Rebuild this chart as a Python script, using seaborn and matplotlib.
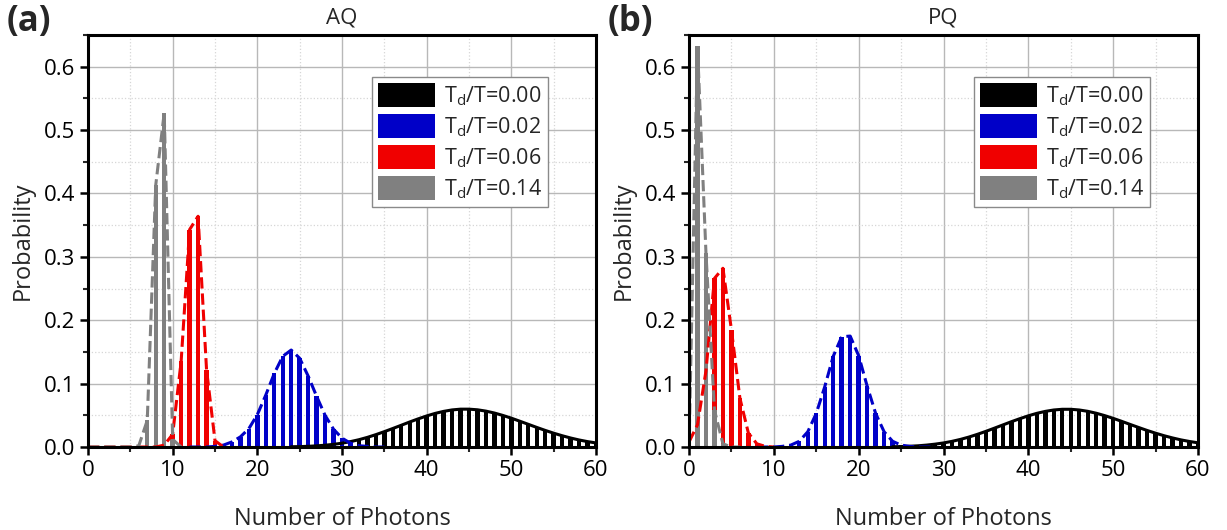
import matplotlib
matplotlib.use("Agg")
import matplotlib.pyplot as plt
import seaborn as sns
import numpy as np
from matplotlib.patches import Patch
from matplotlib.ticker import MultipleLocator

# ---------------- data ----------------
# AQ panel
aq_black_n = list(range(24, 61))
aq_black_p = [0.0004, 0.0006, 0.0011, 0.0018, 0.0028, 0.0042, 0.0060, 0.0085, 0.0115,
              0.0152, 0.0195, 0.0242, 0.0292, 0.0343, 0.0395, 0.0444, 0.0490, 0.0530, 0.0562,
              0.0585, 0.0597, 0.0597, 0.0587, 0.0566, 0.0536, 0.0498, 0.0455, 0.0407, 0.0358,
              0.0309, 0.0262, 0.0218, 0.0178, 0.0142, 0.0111, 0.0085, 0.0064]
aq_blue_n = list(range(12, 36))
aq_blue_p = [0.0, 0.0, 0.0, 0.001, 0.003, 0.008, 0.016, 0.029, 0.051, 0.082,
             0.116, 0.143, 0.153, 0.140, 0.112, 0.080, 0.050, 0.028, 0.014, 0.006,
             0.002, 0.001, 0.0, 0.0]
aq_red_n = list(range(0, 17))
aq_red_p = [0, 0, 0, 0, 0, 0, 0, 0, 0, 0.003, 0.020, 0.135, 0.343, 0.364, 0.122, 0.010, 0.0]
aq_gray_n = list(range(0, 12))
aq_gray_p = [0, 0, 0, 0, 0, 0, 0.002, 0.042, 0.413, 0.527, 0.012, 0.0]

# PQ panel
pq_black_n = list(range(24, 61))
pq_black_p = [0.0004, 0.0007, 0.0012, 0.0019, 0.0030, 0.0045, 0.0064, 0.0089, 0.0120,
              0.0157, 0.0200, 0.0247, 0.0297, 0.0348, 0.0399, 0.0447, 0.0492, 0.0531, 0.0562,
              0.0584, 0.0595, 0.0595, 0.0584, 0.0563, 0.0533, 0.0495, 0.0452, 0.0405, 0.0356,
              0.0308, 0.0261, 0.0218, 0.0178, 0.0143, 0.0112, 0.0087, 0.0066]
pq_blue_n = list(range(8, 30))
pq_blue_p = [0.0, 0.0, 0.0, 0.001, 0.003, 0.009, 0.024, 0.053, 0.095, 0.143,
             0.174, 0.175, 0.144, 0.096, 0.053, 0.024, 0.009, 0.003, 0.001, 0.0,
             0.0, 0.0]
pq_red_n = list(range(0, 11))
pq_red_p = [0.008, 0.035, 0.120, 0.266, 0.282, 0.185, 0.077, 0.022, 0.005, 0.001, 0.0]
pq_gray_n = list(range(0, 7))
pq_gray_p = [0.0, 0.632, 0.306, 0.058, 0.005, 0.0, 0.0]

labels = [r"T$_\mathrm{d}$/T=0.00", r"T$_\mathrm{d}$/T=0.02",
          r"T$_\mathrm{d}$/T=0.06", r"T$_\mathrm{d}$/T=0.14"]
colors = ["#000000", "#0000C8", "#F00000", "#808080"]
styles = ["-", "--", "--", "--"]
x_ticks = [0, 10, 20, 30, 40, 50, 60]
y_ticks = [0.0, 0.1, 0.2, 0.3, 0.4, 0.5, 0.6]

# ---------------- style ----------------
sns.set_theme(style="ticks")
plt.rcParams["font.family"] = ["Open Sans", "DejaVu Sans"]
plt.rcParams["mathtext.fontset"] = "custom"
plt.rcParams["mathtext.rm"] = "Open Sans"

fig = plt.figure(figsize=(12.27, 5.30), dpi=100)
ax1 = fig.add_axes([88 / 1227, 83 / 530, 508 / 1227, 412 / 530])
ax2 = fig.add_axes([689 / 1227, 83 / 530, 509 / 1227, 412 / 530])

panels = [
    (ax1, "AQ", "(a)", 7, [(aq_black_n, aq_black_p), (aq_blue_n, aq_blue_p),
                           (aq_red_n, aq_red_p), (aq_gray_n, aq_gray_p)]),
    (ax2, "PQ", "(b)", 608, [(pq_black_n, pq_black_p), (pq_blue_n, pq_blue_p),
                             (pq_red_n, pq_red_p), (pq_gray_n, pq_gray_p)]),
]

for ax, title, tag, tagx, series in panels:
    for (n, p), c, ls in zip(series, colors, styles):
        sns.barplot(x=n, y=p, native_scale=True, width=0.52, color=c,
                    saturation=1, linewidth=0, errorbar=None, ax=ax)
        sns.lineplot(x=n, y=p, color=c, linestyle=ls, linewidth=2.2, ax=ax)

    ax.set_xlim(0, 60)
    ax.set_ylim(0, 0.65)
    ax.set_xticks(x_ticks)
    ax.set_xticklabels([str(v) for v in x_ticks])
    ax.set_yticks(y_ticks)
    ax.set_yticklabels([f"{v:.1f}" for v in y_ticks])
    ax.xaxis.set_minor_locator(MultipleLocator(5))
    ax.yaxis.set_minor_locator(MultipleLocator(0.05))
    ax.set_axisbelow(True)
    ax.grid(which="major", color="#b8b8b8", linewidth=1.0, linestyle="-")
    ax.grid(which="minor", color="#d6d6d6", linewidth=0.9, linestyle=":")
    ax.tick_params(which="major", direction="out", length=6, width=1.8,
                   labelsize=16, colors="black", top=False, right=False, pad=3)
    ax.tick_params(which="minor", direction="out", length=3.5, width=1.5,
                   top=False, right=False)
    for s in ax.spines.values():
        s.set_visible(True)
        s.set_linewidth(2.2)
        s.set_color("black")

    ax.set_xlabel("Number of Photons", fontsize=17)
    ax.set_ylabel("Probability", fontsize=17)
    ax.xaxis.set_label_coords(0.5, -0.145)
    ax.set_title(title, fontsize=16, pad=8)

    handles = [Patch(facecolor=c, edgecolor="none") for c in colors]
    leg = ax.legend(handles, labels, loc="upper right", bbox_to_anchor=(0.906, 0.898),
                    fontsize=15.5, handlelength=2.65, handleheight=1.3, frameon=True,
                    fancybox=False, edgecolor="#8a8a8a", framealpha=1,
                    borderpad=0.3, labelspacing=0.3, handletextpad=0.4,
                    borderaxespad=0)
    leg.get_frame().set_linewidth(1.0)

    fig.text(tagx / 1227, 1 - 31 / 530, tag, fontsize=25, fontweight="bold",
             ha="left", va="baseline")

ax1.yaxis.set_label_coords(-0.105, 0.5)
ax2.yaxis.set_label_coords(-0.105, 0.5)

fig.savefig("out.png", dpi=100)
